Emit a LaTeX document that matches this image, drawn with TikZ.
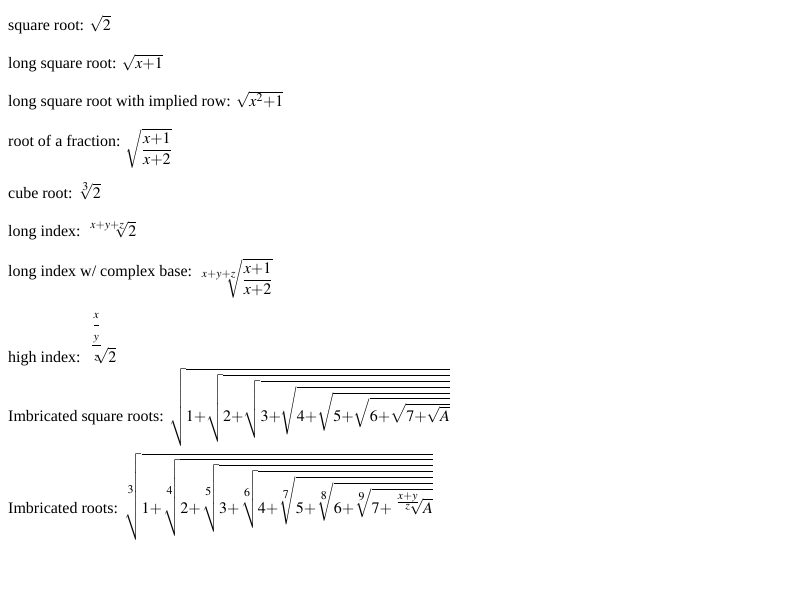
\documentclass[tikz,border=0pt]{standalone}
\usepackage{mathptmx}
\usepackage{fontspec}
\setmainfont{Liberation Serif}
\usepackage{tikz}
\usetikzlibrary{positioning}

\tikzset{rowText/.style={anchor=base west, inner sep=0pt, font=\fontsize{16}{19}\selectfont}}
% tight plus and a larger root index, as the reference sets them
\newcommand{\tp}{\mathord{+}}
\newcommand{\rootIdx}[2]{\sqrt[\scriptstyle #1]{#2}}

\begin{document}
\begin{tikzpicture}[x=1pt, y=1pt]
	\useasboundingbox (0,0) rectangle (800,-600);
	\node (squareRoot)[rowText] at (8,-30) {square root: $\sqrt{2}$};
	\node (longRoot)[below=38pt of squareRoot.base west, rowText] {long square root: $\sqrt{x\tp1}$};
	\node (impliedRow)[below=38pt of longRoot.base west, rowText] {long square root with implied row: $\sqrt{x^2\tp1}$};
	\node (fracRoot)[below=40pt of impliedRow.base west, rowText] {root of a fraction: \raisebox{-8pt}{$\sqrt{\displaystyle\frac{x\tp1}{x\tp2}}$}};
	\node (cubeRoot)[below=52pt of fracRoot.base west, rowText] {cube root: $\rootIdx{3}{2}$};
	\node (longIndex)[below=38pt of cubeRoot.base west, rowText] {long index: $\rootIdx{x\tp y\tp z}{2}$};
	\node (complexBase)[below=40pt of longIndex.base west, rowText] {long index w/ complex base: \raisebox{-8pt}{$\rootIdx{x\tp y\tp z}{\displaystyle\frac{x\tp1}{x\tp2}}$}};
	\node (highIndex)[below=86pt of complexBase.base west, rowText] {high index: $\rootIdx{\raisebox{5pt}{$\displaystyle\frac{\displaystyle\frac{\scriptstyle x}{\scriptstyle y}}{\mkern3mu\scriptstyle z\mkern3mu}$}\mkern3mu}{2}$};
	\node (nestedSquare)[below=59pt of highIndex.base west, rowText] {Imbricated square roots: $\sqrt{1\tp\sqrt{2\tp\sqrt{3\tp\sqrt{4\tp\sqrt{5\tp\sqrt{6\tp\sqrt{7\tp\sqrt{A}}}}}}}}$};
	\node (nestedRoots)[below=92pt of nestedSquare.base west, rowText] {Imbricated roots: $\rootIdx{3}{1\tp\rootIdx{4}{2\tp\rootIdx{5}{3\tp\rootIdx{6}{4\tp\rootIdx{7}{5\tp\rootIdx{8}{6\tp\rootIdx{9}{7\tp\rootIdx{\frac{\scriptstyle x\tp y}{\scriptstyle z}}{A}}}}}}}}$};
\end{tikzpicture}
\end{document}
